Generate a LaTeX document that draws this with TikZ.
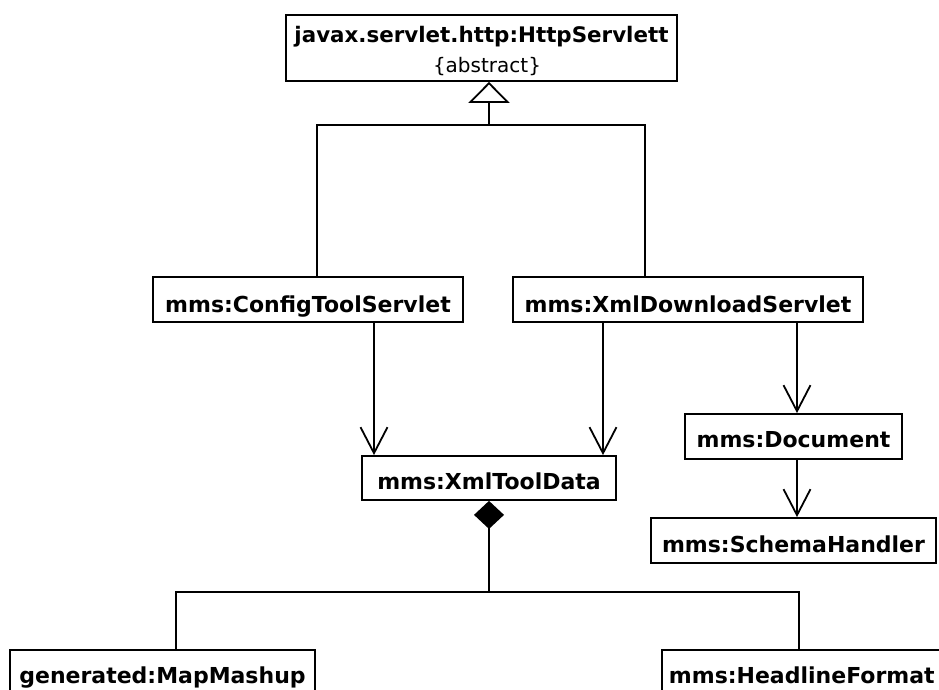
\documentclass[tikz,border=0pt]{standalone}
\usepackage{fontspec}
\newfontfamily\clsfont{DejaVu Sans}
\usetikzlibrary{arrows.meta}

\tikzset{
  cls/.style={draw, line width=1.8pt, inner xsep=0pt, inner ysep=0pt,
    font=\clsfont\bfseries\fontsize{22pt}{26pt}\selectfont},
  conn/.style={line width=1.8pt},
  assoc/.style={conn, -{Straight Barb[length=26pt,width=27pt,line width=1.8pt]}},
  inherit/.style={conn, -{Triangle[open,length=21pt,width=41pt,line width=1.8pt]}},
  compose/.style={conn, {Diamond[length=28pt,width=30pt]}-},
}

\begin{document}
\begin{tikzpicture}[x=1pt, y=-1pt]
  \fill[white] (0,0) rectangle (939,690);
  \useasboundingbox (0,0) rectangle (939,690);

  % abstract base class
  \node[cls, minimum width=391pt, minimum height=66pt] (http) at (481.5,48) {};
  \node[font=\clsfont\bfseries\fontsize{21.4pt}{26pt}\selectfont, anchor=base, inner sep=0pt]
    (httpname) at (481.5,43) {javax.servlet.http:HttpServlett};
  \node[font=\clsfont\fontsize{20pt}{24pt}\selectfont, anchor=base, inner sep=0pt]
    (httpabs) at (487,73) {\{abstract\}};

  % servlets
  \node[cls, minimum width=310pt, text height=35pt, text depth=10pt] (cfg) at (308,299.5) {mms:ConfigToolServlet};
  \node[cls, minimum width=350pt, text height=35pt, text depth=10pt] (dl) at (688,299.5) {mms:XmlDownloadServlet};

  % data and document classes
  \node[cls, minimum width=254pt, text height=33pt, text depth=11pt] (xtd) at (489,478) {mms:XmlToolData};
  \node[cls, minimum width=217pt, text height=33pt, text depth=12pt] (doc) at (793.5,436.5) {mms:Document};
  \node[cls, minimum width=285pt, text height=34pt, text depth=11pt] (sch) at (793.5,540.5) {mms:SchemaHandler};

  % parts of the tool data
  \node[cls, minimum width=305pt, text height=33pt, text depth=13pt] (mm) at (162.5,673) {generated:MapMashup};
  \node[cls, anchor=west, inner xsep=7pt, text height=33pt, text depth=13pt] (hf) at (661,673) {mms:HeadlineFormat};

  % generalisation
  \coordinate (inh) at (489,125);
  \draw[conn] ([xshift=9pt]cfg.north) |- (inh);
  \draw[conn] ([xshift=-43pt]dl.north) |- (inh);
  \draw[inherit] (inh) -- (http.south -| inh);

  % associations
  \draw[assoc] ([xshift=66pt]cfg.south) -- ([xshift=-115pt]xtd.north);
  \draw[assoc] ([xshift=-85pt]dl.south) -- ([xshift=114pt]xtd.north);
  \draw[assoc] ([xshift=109pt]dl.south) -- ([xshift=3.5pt]doc.north);
  \draw[assoc] ([xshift=3.5pt]doc.south) -- ([xshift=3.5pt]sch.north);

  % composition
  \coordinate (cmp) at (489,592);
  \draw[compose] (xtd.south) -- (cmp);
  \draw[conn] (cmp) -| ([xshift=13.5pt]mm.north);
  \draw[conn] (cmp) -| ([xshift=138pt]hf.north west);
\end{tikzpicture}
\end{document}
